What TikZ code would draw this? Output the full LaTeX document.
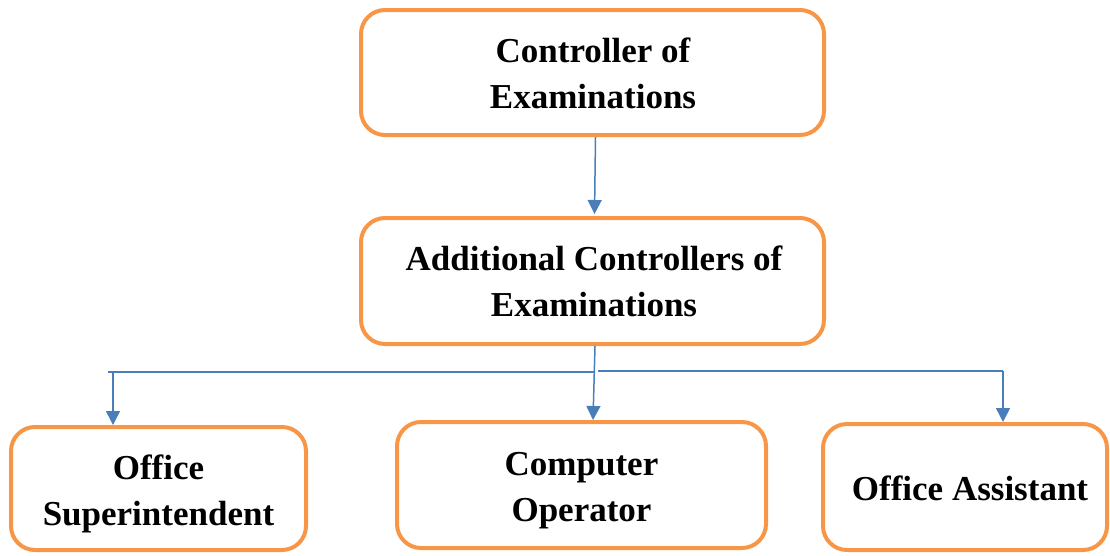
\documentclass[tikz,border=0pt]{standalone}
\usepackage{fontspec}
\setmainfont{Liberation Serif}
\usetikzlibrary{arrows.meta}
\definecolor{boxorange}{HTML}{F79646}
\definecolor{lineblue}{HTML}{4A7EBB}
\tikzset{
  orgbox/.style={draw=boxorange, line width=4pt, rounded corners=24pt, inner sep=0pt},
  boxtext/.style={align=center, font=\bfseries\fontsize{35}{46}\selectfont, inner sep=0pt},
  conn/.style={draw=lineblue, line width=1.5pt},
  arr/.style={conn, -{Triangle[width=14pt,length=14pt]}}
}
\begin{document}
\begin{tikzpicture}[x=1pt,y=-1pt]
\useasboundingbox (0,0) rectangle (1110,555);
% boxes
\node[orgbox, minimum width=463pt, minimum height=125pt] (b1) at (592.5,72.5) {};
\node[orgbox, minimum width=463pt, minimum height=126pt] (b2) at (592.5,281) {};
\node[orgbox, minimum width=295pt, minimum height=123pt] (b3) at (158.5,488.5) {};
\node[orgbox, minimum width=369pt, minimum height=126pt] (b4) at (581.5,485) {};
\node[orgbox, minimum width=284pt, minimum height=126pt] (b5) at (965,487) {};
% texts
\node[boxtext] (t1) at (593,73) {Controller of\\Examinations};
\node[boxtext] (t2) at (594,281) {Additional Controllers of\\Examinations};
\node[boxtext] (t3) at (158.5,494) {Office\\Superintendent};
\node[boxtext] (t4) at (581.5,491) {Computer\\Operator};
\node[boxtext] (t5) at (970,488) {Office Assistant};
% connectors
\coordinate (c1) at (595.5,137);
\coordinate (c2) at (594.5,214);
\draw[arr] (c1) -- (c2);
\coordinate (h0) at (595,346);
\coordinate (hm) at (593,420);
\coordinate (hl) at (108,372);
\coordinate (hc) at (595,372);
\coordinate (hr) at (598,371);
\coordinate (hre) at (1003,371);
\coordinate (l1) at (113,372);
\coordinate (l2) at (113,425);
\coordinate (r2) at (1003,422);
\draw[arr] (h0) -- (hm);
\draw[conn] (hl) -- (hc);
\draw[conn] (hr) -- (hre);
\draw[arr] (l1) -- (l2);
\draw[arr] (hre) -- (r2);
\end{tikzpicture}
\end{document}
